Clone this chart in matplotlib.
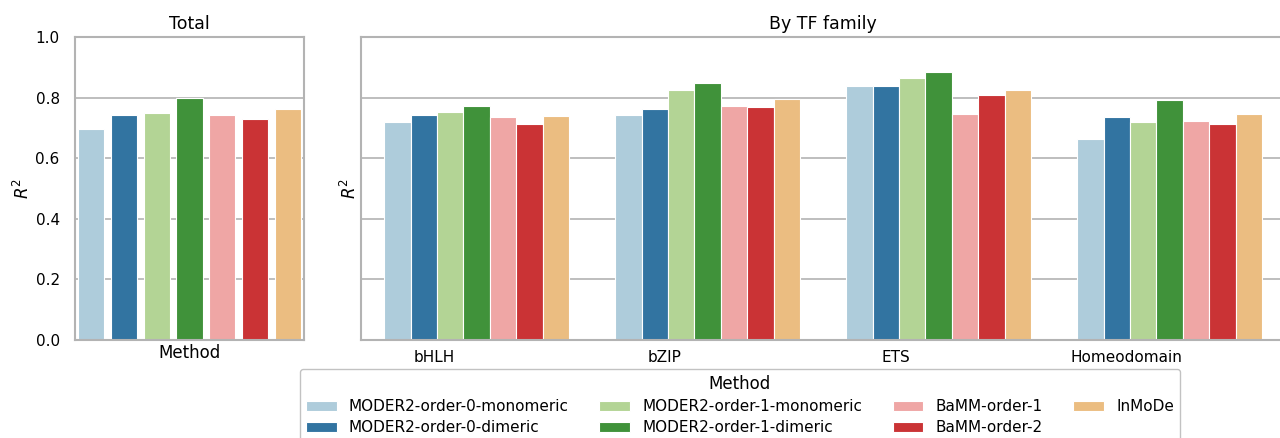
import matplotlib
matplotlib.use("Agg")
import matplotlib.pyplot as plt
import numpy as np
import seaborn as sns

methods = [
    "MODER2-order-0-monomeric",
    "MODER2-order-0-dimeric",
    "MODER2-order-1-monomeric",
    "MODER2-order-1-dimeric",
    "BaMM-order-1",
    "BaMM-order-2",
    "InMoDe",
]
total_r2 = [0.695, 0.741, 0.748, 0.799, 0.741, 0.729, 0.762]

families = ["bHLH", "bZIP", "ETS", "Homeodomain"]
family_r2 = {
    "bHLH":        [0.720, 0.741, 0.751, 0.773, 0.736, 0.712, 0.738],
    "bZIP":        [0.741, 0.761, 0.825, 0.848, 0.773, 0.770, 0.797],
    "ETS":         [0.839, 0.838, 0.864, 0.884, 0.746, 0.810, 0.825],
    "Homeodomain": [0.663, 0.735, 0.718, 0.791, 0.723, 0.713, 0.747],
}

colors = [sns.desaturate(c, 0.75) for c in sns.color_palette("Paired", 7)]

plt.rcParams["font.family"] = "DejaVu Sans"
plt.rcParams["font.size"] = 11
edge = "#b3b3b3"

fig = plt.figure(figsize=(12.8, 4.38), dpi=100)
ax1 = fig.add_axes([75 / 1280, 98 / 438, 229 / 1280, 303 / 438])
ax2 = fig.add_axes([361 / 1280, 98 / 438, 924 / 1280, 303 / 438])


def style(ax):
    ax.set_ylim(0, 1.0)
    ax.set_yticks(np.arange(0, 1.01, 0.2))
    ax.set_axisbelow(True)
    ax.yaxis.grid(True, color=edge, linewidth=1.2)
    ax.tick_params(axis="y", length=0, labelsize=11, pad=11)
    ax.tick_params(axis="x", length=0, labelsize=11, pad=7)
    for s in ax.spines.values():
        s.set_color(edge)
        s.set_linewidth(1.5)
    ax.set_ylabel("$R^2$", fontsize=12)


# Total
x = np.arange(len(methods))
ax1.bar(x, total_r2, width=0.8, color=colors, edgecolor="white", linewidth=0.8)
ax1.set_xlim(-0.5, 6.5)
ax1.set_xticks([])
ax1.set_xlabel("Method", fontsize=12, labelpad=3)
ax1.set_title("Total", fontsize=12.5, pad=6)
style(ax1)
ax1.set_yticklabels(["0.0", "0.2", "0.4", "0.6", "0.8", "1.0"])
ax1.yaxis.labelpad = 2

# By family
bw = 0.8 / len(methods)
handles = []
for j, m in enumerate(methods):
    vals = [family_r2[f][j] for f in families]
    pos = np.arange(len(families)) - 0.4 + bw * (j + 0.5)
    h = ax2.bar(pos, vals, width=bw, color=colors[j], edgecolor="white",
                linewidth=0.8, label=m)
    handles.append(h)
ax2.set_xlim(-0.5, 3.5)
ax2.set_xticks(np.arange(len(families)) - 0.185)
ax2.set_xticklabels(families)
ax2.set_title("By TF family", fontsize=12.5, pad=6)
style(ax2)
ax2.set_yticklabels([])
ax2.tick_params(axis="y", pad=0)
ax2.yaxis.labelpad = 1

leg = fig.legend(handles=handles, labels=methods, ncol=4, title="Method",
                 loc="upper left", bbox_to_anchor=(300 / 1280, 69 / 438),
                 borderaxespad=0, frameon=True, fontsize=11,
                 title_fontsize=12, handlelength=2.0, columnspacing=2.0,
                 labelspacing=0.4)
leg.get_frame().set_edgecolor(edge)

fig.savefig("out.png", dpi=100)
